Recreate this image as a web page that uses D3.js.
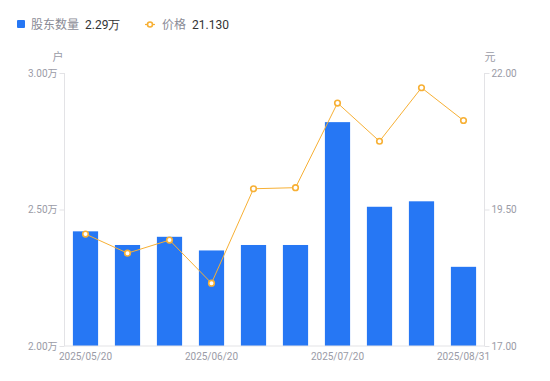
<!DOCTYPE html>
<html><head><meta charset="utf-8">
<script src="https://cdn.jsdelivr.net/npm/d3@7"></script>
<style>body{margin:0;background:#fff;font-family:"Noto Sans CJK SC","Noto Sans",sans-serif;}</style>
</head><body><svg id="c" width="550" height="381"></svg>
<script>
const dates = ["2025/05/20","2025/05/31","2025/06/10","2025/06/20","2025/06/30","2025/07/10","2025/07/20","2025/07/31","2025/08/10","2025/08/31"];
const holders = [2.42,2.37,2.40,2.35,2.37,2.37,2.82,2.51,2.53,2.29];
const prices = [19.05,18.70,18.94,18.15,19.88,19.90,21.45,20.75,21.73,21.13];
const leftTicks = [2.00,2.50,3.00];
const rightTicks = [17.00,19.50,22.00];
const shownLabels = ["2025/05/20","2025/06/20","2025/07/20","2025/08/31"];

const svg = d3.select("#c");
const L=64.5, R=484.5, T=73, B=346;
const x = d3.scaleBand().domain(dates).range([L,R]).paddingInner(0.4).paddingOuter(0.2);
const yL = d3.scaleLinear().domain([2,3]).range([B,T]);
const yR = d3.scaleLinear().domain([17,22]).range([B,T]);
const gray="#9a9ba6", axisC="#e3e3e6";

// bars
svg.append("g").selectAll("rect").data(holders).join("rect")
  .attr("x",(d,i)=>x(dates[i])).attr("width",x.bandwidth())
  .attr("y",d=>yL(d)).attr("height",d=>B-yL(d)).attr("fill","#2677f4");

// axes
const gl = svg.append("g").attr("transform",`translate(${L},0)`)
  .call(d3.axisLeft(yL).tickValues(leftTicks).tickSize(5).tickFormat(d=>d3.format(".2f")(d)+"万"));
const gr = svg.append("g").attr("transform",`translate(${R},0)`)
  .call(d3.axisRight(yR).tickValues(rightTicks).tickSize(5).tickFormat(d3.format(".2f")));
const gx = svg.append("g").attr("transform",`translate(0,${B})`)
  .call(d3.axisBottom(x).tickValues(shownLabels).tickSize(0).tickPadding(7));
[gl,gr,gx].forEach(g=>{
  g.selectAll("path,line").attr("stroke",axisC);
  g.selectAll("text").attr("fill",gray).style("font-size","10px").style("font-family","Roboto,'Noto Sans CJK SC',sans-serif");
});
gl.select(".domain").attr("d",`M0,${T}V${B}`);
gr.select(".domain").attr("d",`M0,${T}V${B}`);
gx.select(".domain").attr("d",`M${L},0H${R}`);
gl.selectAll(".tick text").attr("x",-7);
gr.selectAll(".tick text").attr("x",7);

// line
const cx=(d,i)=>x(dates[i])+x.bandwidth()/2;
svg.append("path").datum(prices).attr("fill","none").attr("stroke","#f7b035").attr("stroke-width",1)
  .attr("d",d3.line().x(cx).y(d=>yR(d)));
svg.append("g").selectAll("circle").data(prices).join("circle")
  .attr("cx",cx).attr("cy",d=>yR(d)).attr("r",2.8)
  .attr("fill","#fff").attr("stroke","#f7b035").attr("stroke-width",1.6);

// unit labels
svg.append("text").attr("x",58).attr("y",61).attr("text-anchor","middle").attr("fill",gray).style("font-size","11px").text("户");
svg.append("text").attr("x",490).attr("y",61).attr("text-anchor","middle").attr("fill",gray).style("font-size","11px").text("元");

// legend
const lg = svg.append("g").style("font-size","12px");
lg.append("rect").attr("x",17).attr("y",20).attr("width",8).attr("height",8).attr("rx",1).attr("fill","#2677f4");
lg.append("text").attr("x",31).attr("y",28.5).attr("fill","#8a8b96").text("股东数量");
lg.append("text").attr("x",85).attr("y",28.5).attr("fill","#333").style("font-family","Roboto,sans-serif").text(d3.format(".2f")(holders[holders.length-1])+"万");
lg.append("line").attr("x1",145).attr("x2",155).attr("y1",24.5).attr("y2",24.5).attr("stroke","#f7b035").attr("stroke-width",1.2);
lg.append("circle").attr("cx",150).attr("cy",24.5).attr("r",2.5).attr("fill","#fff").attr("stroke","#f7b035").attr("stroke-width",1.6);
lg.append("text").attr("x",162).attr("y",28.5).attr("fill","#8a8b96").text("价格");
lg.append("text").attr("x",192).attr("y",28.5).attr("fill","#333").style("font-family","Roboto,sans-serif").text(d3.format(".3f")(prices[prices.length-1]));
</script></body></html>
